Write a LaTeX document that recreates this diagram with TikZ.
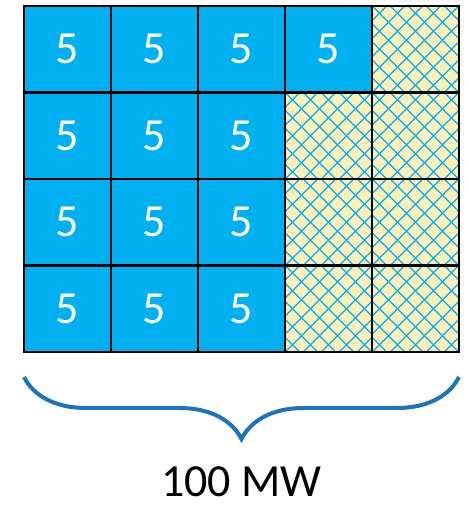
\documentclass[tikz,border=0pt]{standalone}
\usepackage{fontspec}
\setmainfont{Carlito}
\usetikzlibrary{positioning,calc,decorations.pathreplacing}
\definecolor{mwblue}{HTML}{00B0F0}
\definecolor{cream}{HTML}{FBEFBA}
\definecolor{braceblue}{HTML}{1C74BE}
\tikzset{
  mwcell/.style={draw=black,fill=mwblue,line width=2.6pt,outer sep=0pt,
                 minimum width=87pt,minimum height=86.5pt,inner sep=0pt,
                 text=white,font=\fontsize{46}{52}\selectfont},
  lattice/.style={draw=mwblue,line width=1.3pt},
  freecell/.style={draw=black,fill=cream,line width=2.6pt,outer sep=0pt,
                   minimum width=87pt,minimum height=86.5pt,inner sep=0pt,
                   path picture={
                     \foreach \k in {-8,...,8}{
                       \draw[lattice] ($(path picture bounding box.center)+(\k*18pt-70pt,-70pt)$) -- ++(140pt,140pt);
                       \draw[lattice] ($(path picture bounding box.center)+(\k*18pt+70pt,-70pt)$) -- ++(-140pt,140pt);
                     }}},
  bluebrace/.style={draw=braceblue,line width=4pt,decorate,
                    decoration={brace,amplitude=62pt}}
}
\begin{document}
\begin{tikzpicture}[x=1pt,y=1pt]
  \useasboundingbox (0,0) rectangle (468,508);
  \foreach \r/\yy/\nb in {1/458.75/4, 2/372.25/3, 3/285.75/3, 4/199.25/3}{
    \foreach \c/\xx in {1/67.5, 2/154.5, 3/241.5, 4/328.5, 5/415.5}{
      \ifnum\c>\nb
        \node[freecell] (cell\r\c) at (\xx,\yy) {};
      \else
        \node[mwcell] (cell\r\c) at (\xx,\yy) {5};
      \fi
    }
  }
  \coordinate (braceR) at ([yshift=-25pt]cell45.south east);
  \coordinate (braceL) at ([yshift=-25pt]cell41.south west);
  \draw[bluebrace] (braceR) -- (braceL);
  \node[font=\fontsize{46}{52}\selectfont,anchor=base] (total) at (241.5,11) {100 MW};
\end{tikzpicture}
\end{document}
